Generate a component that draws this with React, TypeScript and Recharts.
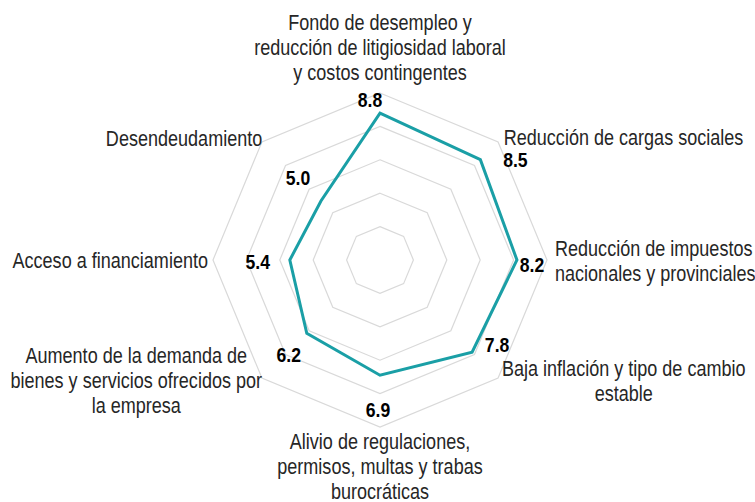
import { RadarChart, Radar, PolarGrid, PolarAngleAxis, PolarRadiusAxis, LabelList } from "recharts";

const CATEGORIES = [
  "Fondo de desempleo y|reducción de litigiosidad laboral|y costos contingentes",
  "Reducción de cargas sociales",
  "Reducción de impuestos|nacionales y provinciales",
  "Baja inflación y tipo de cambio|estable",
  "Alivio de regulaciones,|permisos, multas y trabas|burocráticas",
  "Aumento de la demanda de|bienes y servicios ofrecidos por|la empresa",
  "Acceso a financiamiento",
  "Desendeudamiento",
];
const VALUES = [8.8, 8.5, 8.2, 7.8, 6.9, 6.2, 5.4, 5.0];

const data = CATEGORIES.map((c, i) => ({ name: c, value: VALUES[i] }));

const FONT = "'Liberation Sans', Arial, sans-serif";
const TEAL = "#1a9fa6";
const NARROW = 0.82; // fake Arial Narrow

// placement of the category text relative to the tick point
const TICK_LAYOUT: { anchor: "start" | "middle" | "end"; dx: number; dy: number }[] = [
  { anchor: "middle", dx: 0, dy: -63 },
  { anchor: "start", dx: 0, dy: 1 },
  { anchor: "start", dx: 0, dy: -12 },
  { anchor: "middle", dx: 120, dy: -15 },
  { anchor: "middle", dx: 0, dy: 6 },
  { anchor: "middle", dx: -120, dy: -28 },
  { anchor: "end", dx: 3, dy: 0 },
  { anchor: "end", dx: 6, dy: 2 },
];

// nudges for the value labels, relative to each point
const VALUE_NUDGE = [
  [-10, -13], [35, 0], [15, 5], [25, -7], [-2, 35], [-18, 22], [-32, 2], [-23, -23],
];

const AngleTick = (props: any) => {
  const { x, y, payload, index } = props;
  const lay = TICK_LAYOUT[index];
  const lines = String(payload.value).split("|");
  return (
    <g transform={`translate(${x + lay.dx},${y + lay.dy}) scale(${NARROW},1)`}>
      <text
        x={0}
        y={0}
        textAnchor={lay.anchor}
        dominantBaseline="central"
        fontFamily={FONT}
        fontSize={22}
        fill="#262626"
      >
        {lines.map((l, k) => (
          <tspan key={k} x={0} dy={k === 0 ? 0 : 25}>
            {l}
          </tspan>
        ))}
      </text>
    </g>
  );
};

const ValueLabel = (props: any) => {
  const { x, y, value, index } = props;
  const [dx, dy] = VALUE_NUDGE[index];
  return (
    <g transform={`translate(${x + dx},${y + dy}) scale(0.88,1)`}>
      <text
        x={0}
        y={0}
        textAnchor="middle"
        dominantBaseline="central"
        fontFamily={FONT}
        fontSize={20}
        fontWeight={700}
        fill="#000"
      >
        {Number(value).toFixed(1)}
      </text>
    </g>
  );
};

export default function App() {
  return (
    <div style={{ position: "absolute", left: 0, top: 0, width: 755, height: 502 }}>
      <RadarChart
        width={755}
        height={502}
        data={data}
        cx={380}
        cy={260}
        outerRadius={167}
        margin={{ top: 0, right: 0, bottom: 0, left: 0 }}
      >
        <PolarGrid gridType="polygon" radialLines={false} stroke="#d9d9d9" strokeWidth={1.2} />
        <PolarAngleAxis
          dataKey="name"
          tick={<AngleTick />}
          tickLine={false}
          axisLine={false}
        />
        <PolarRadiusAxis domain={[0, 10]} tickCount={6} tick={false} axisLine={false} />
        <Radar
          dataKey="value"
          stroke={TEAL}
          strokeWidth={3}
          fill="none"
          fillOpacity={0}
          isAnimationActive={false}
        >
          <LabelList dataKey="value" content={<ValueLabel />} />
        </Radar>
      </RadarChart>
    </div>
  );
}
